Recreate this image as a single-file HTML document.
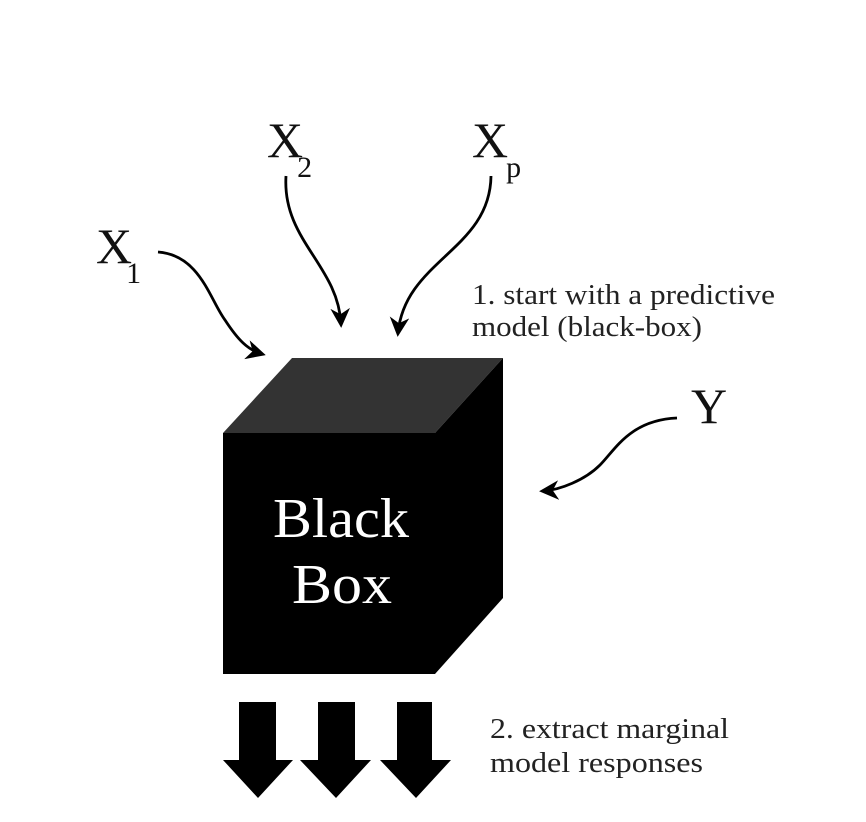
<!DOCTYPE html>
<html><head><meta charset="utf-8"><style>
html,body{margin:0;padding:0;background:#fff;}
svg{display:block;}
text{font-family:"Liberation Serif",serif;}
</style></head><body>
<svg width="866" height="822" viewBox="0 0 866 822">
<defs>
<marker id="ah" viewBox="0 0 10 10" refX="8" refY="5" markerWidth="7" markerHeight="7" orient="auto-start-reverse" markerUnits="strokeWidth">
<path d="M0,0 L10,5 L0,10 L3,5 z" fill="#000"/>
</marker>
</defs>
<g>
<polygon points="223,433 292,358 503,358 435,433" fill="#333"/>
<polygon points="435,433 503,358 503,598 435,674" fill="#000"/>
<rect x="223" y="433" width="212" height="241" fill="#000"/>
<text x="273" y="537" font-size="56" fill="#fff" textLength="136" lengthAdjust="spacingAndGlyphs">Black</text>
<text x="292" y="603" font-size="56" fill="#fff" textLength="100" lengthAdjust="spacingAndGlyphs">Box</text>
</g>
<g fill="none" stroke="#000" stroke-width="2.8">
<path d="M158,252 C200,255 210,300 225,320 C238,340 248,350 262,354" marker-end="url(#ah)"/>
<path d="M286,176 C282,240 338,265 341,324" marker-end="url(#ah)"/>
<path d="M491,176 C490,250 405,260 398,333" marker-end="url(#ah)"/>
<path d="M677,418 C630,420 615,450 600,465 C585,480 560,490 543,491" marker-end="url(#ah)"/>
</g>
<g fill="#111">
<text x="96" y="263" font-size="50">X<tspan font-size="30" dx="-6" dy="20">1</tspan></text>
<text x="267" y="157" font-size="50">X<tspan font-size="30" dx="-6" dy="20">2</tspan></text>
<text x="472" y="157" font-size="50">X<tspan font-size="30" dx="-2" dy="20">p</tspan></text>
<text x="691" y="423" font-size="50">Y</text>
</g>
<text x="472" y="304" font-size="28" fill="#222" textLength="303" lengthAdjust="spacingAndGlyphs">1. start with a predictive</text>
<text x="472" y="336" font-size="28" fill="#222" textLength="230" lengthAdjust="spacingAndGlyphs">model (black-box)</text>
<g fill="#000">
<polygon points="239,702 276,702 276,760 293,760 258,798 223,760 239,760"/>
<polygon points="318,702 355,702 355,760 371,760 336,798 300,760 318,760"/>
<polygon points="397,702 432,702 432,760 451,760 416,798 380,760 397,760"/>
</g>
<text x="490" y="738" font-size="28" fill="#222" textLength="239" lengthAdjust="spacingAndGlyphs">2. extract marginal</text>
<text x="490" y="772" font-size="28" fill="#222" textLength="213" lengthAdjust="spacingAndGlyphs">model responses</text>
</svg>
</body></html>
